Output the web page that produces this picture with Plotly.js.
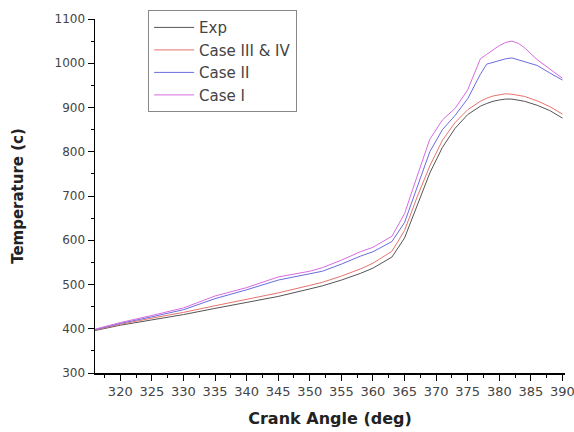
<!DOCTYPE html>
<html>
<head>
<meta charset="utf-8">
<script src="https://cdn.plot.ly/plotly-3.0.1.min.js"></script>
<style>
  html, body { margin: 0; padding: 0; background: #fff; }
  #chart { width: 574px; height: 432px; }
</style>
</head>
<body>
<div id="chart"></div>
<script>
// Crank angle (deg)
const crankAngle = [316, 320, 325, 330, 335, 340, 345, 350, 352, 355, 358, 360, 363, 365, 367, 369, 371, 373, 375, 377, 378, 379, 380, 381, 382, 383, 384, 386, 388, 390];

// In-cylinder temperature (c) per case
const tempExp = [396, 408, 420, 432, 446, 459, 473, 490, 497, 510, 525, 537, 562, 605, 680, 752, 810, 853, 884, 903, 909, 914, 917, 919, 919, 917, 914, 905, 893, 876];
const tempCase34 = [397, 410, 424, 437, 452, 466, 481, 498, 505, 519, 535, 548, 575, 622, 698, 768, 826, 866, 895, 914, 921, 926, 929, 931, 930, 928, 925, 915, 902, 885];
const tempCase2 = [398, 412, 427, 443, 468, 488, 510, 524, 530, 546, 564, 574, 597, 640, 720, 800, 850, 882, 920, 975, 998, 1002, 1006, 1010, 1012, 1008, 1004, 995, 978, 962];
const tempCase1 = [399, 414, 430, 447, 474, 493, 517, 530, 538, 555, 574, 584, 609, 660, 745, 828, 872, 898, 940, 1010, 1020, 1030, 1040, 1047, 1050, 1045, 1035, 1008, 988, 966];

const seriesNames = ["Exp", "Case III & IV", "Case II", "Case I"];
const seriesColors = ["#555555", "#e8736b", "#6b6be0", "#d86be0"];
const seriesValues = [tempExp, tempCase34, tempCase2, tempCase1];

const traces = seriesValues.map((vals, i) => ({
  x: crankAngle,
  y: vals,
  type: "scatter",
  mode: "lines",
  name: seriesNames[i],
  line: { color: seriesColors[i], width: 1 }
}));

const FONT = "DejaVu Sans, Arial, sans-serif";

const layout = {
  width: 574,
  height: 432,
  margin: { l: 95, r: 9, t: 19, b: 59 },
  paper_bgcolor: "#fff",
  plot_bgcolor: "#fff",
  showlegend: true,
  legend: {
    x: 0.113, y: 1.025, xanchor: "left", yanchor: "top",
    bgcolor: "rgba(255,255,255,0)",
    bordercolor: "#888", borderwidth: 1,
    font: { family: FONT, size: 15, color: "#444" },
    tracegroupgap: 0,
    itemwidth: 40
  },
  xaxis: {
    range: [316, 390.4],
    tickmode: "linear", tick0: 320, dtick: 5,
    ticks: "outside", ticklen: 6, tickwidth: 1, tickcolor: "#000",
    minor: { dtick: 2.5, tick0: 320, ticks: "outside", ticklen: 3, tickcolor: "#000" },
    showline: true, linecolor: "#000", linewidth: 1.5,
    showgrid: false, zeroline: false,
    ticklabeloverflow: "allow",
    tickfont: { family: FONT, size: 13, color: "#444" },
    title: { text: "<b>Crank Angle (deg)</b>", font: { family: FONT, size: 16, color: "#222" }, standoff: 14 }
  },
  yaxis: {
    range: [300, 1100],
    tickmode: "linear", tick0: 300, dtick: 100,
    ticks: "outside", ticklen: 6, tickwidth: 1, tickcolor: "#000",
    minor: { dtick: 50, ticks: "outside", ticklen: 3, tickcolor: "#000" },
    showline: true, linecolor: "#000", linewidth: 1.5,
    showgrid: false, zeroline: false,
    tickfont: { family: FONT, size: 12, color: "#444" },
    title: { text: "<b>Temperature (c)</b>", font: { family: FONT, size: 15, color: "#222" }, standoff: 27 }
  }
};

Plotly.newPlot("chart", traces, layout, { displayModeBar: false, staticPlot: true });
</script>
</body>
</html>
